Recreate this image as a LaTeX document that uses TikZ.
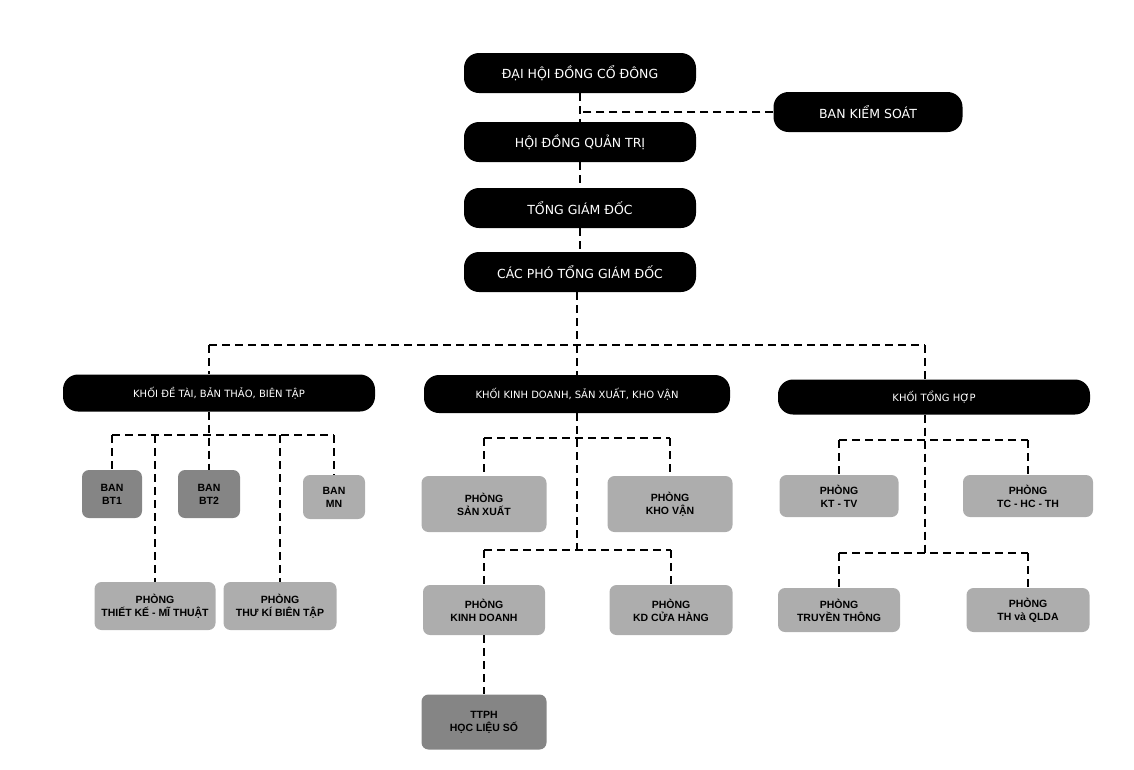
\documentclass[tikz,border=0pt]{standalone}
\usepackage{fontspec}
\setmainfont{Liberation Sans}
\newfontfamily\headfont{DejaVu Sans}
\begin{document}
\begin{tikzpicture}[x=1pt, y=-1pt,
    head/.style={rectangle, rounded corners=15pt, fill=black, text=white, font=\headfont\fontsize{12.5}{14}\selectfont, minimum height=40pt},
    block/.style={head, font=\headfont\fontsize{10}{12}\selectfont},
    unit/.style={rectangle, rounded corners=7pt, fill=black!32, text=black, font=\bfseries\fontsize{10.5}{13}\selectfont, align=center, inner sep=2pt},
    dark/.style={unit, fill=black!48},
    link/.style={draw=black, line width=2pt, dash pattern=on 8pt off 5pt}]
    \useasboundingbox (0,0) rectangle (1134,769);

    % Top management
    \node[head, minimum width=232pt] (dh) at (580,73) {ĐẠI HỘI ĐỒNG CỔ ĐÔNG};
    \node[head, minimum width=189pt] (bks) at (868,112) {BAN KIỂM SOÁT};
    \node[head, minimum width=232pt] (hd) at (580,142) {HỘI ĐỒNG QUẢN TRỊ};
    \node[head, minimum width=232pt] (tgd) at (580,208) {TỔNG GIÁM ĐỐC};
    \node[head, minimum width=232pt] (pho) at (580,272) {CÁC PHÓ TỔNG GIÁM ĐỐC};

    % Blocks
    \node[block, minimum width=312pt, minimum height=37pt] (k1) at (219,393) {KHỐI ĐỀ TÀI, BẢN THẢO, BIÊN TẬP};
    \node[block, minimum width=306pt, minimum height=38pt] (k2) at (577,394) {KHỐI KINH DOANH, SẢN XUẤT, KHO VẬN};
    \node[block, minimum width=312pt, minimum height=35pt] (k3) at (934,397) {KHỐI TỔNG HỢP};

    % Units of block 1
    \node[dark, minimum width=60pt, minimum height=48pt] (bt1) at (112,494) {BAN\\BT1};
    \node[dark, minimum width=62pt, minimum height=48pt] (bt2) at (209,494) {BAN\\BT2};
    \node[unit, minimum width=62pt, minimum height=44pt] (mn) at (334,497) {BAN\\MN};
    \node[unit, minimum width=121pt, minimum height=48pt] (tk) at (155,606) {PHÒNG\\THIẾT KẾ - MĨ THUẬT};
    \node[unit, minimum width=113pt, minimum height=48pt] (tkbt) at (280,606) {PHÒNG\\THƯ KÍ BIÊN TẬP};

    % Units of block 2
    \node[unit, minimum width=125pt, minimum height=56pt] (sx) at (484,504) {PHÒNG\\SẢN XUẤT};
    \node[unit, minimum width=125pt, minimum height=56pt] (kv) at (670,504) {PHÒNG\\KHO VẬN};
    \node[unit, minimum width=122pt, minimum height=50pt] (kd) at (484,610) {PHÒNG\\KINH DOANH};
    \node[unit, minimum width=123pt, minimum height=50pt] (ch) at (671,610) {PHÒNG\\KD CỬA HÀNG};
    \node[dark, minimum width=125pt, minimum height=55pt] (tt) at (484,722) {TTPH\\HỌC LIỆU SỐ};

    % Units of block 3
    \node[unit, minimum width=119pt, minimum height=42pt] (kt) at (839,496) {PHÒNG\\KT - TV};
    \node[unit, minimum width=130pt, minimum height=42pt] (tc) at (1028,496) {PHÒNG\\TC - HC - TH};
    \node[unit, minimum width=122pt, minimum height=44pt] (tr) at (839,610) {PHÒNG\\TRUYỀN THÔNG};
    \node[unit, minimum width=123pt, minimum height=44pt] (ql) at (1028,610) {PHÒNG\\TH và QLDA};

    % Links at the top
    \draw[link] (dh) -- (hd);
    \draw[link] (hd) -- (tgd);
    \draw[link] (tgd) -- (pho);
    \draw[link] (bks.west) -- (bks.west -| dh.south);

    % Bus to the blocks
    \coordinate (b1) at (209,345);
    \coordinate (b2) at (577,345);
    \coordinate (b3) at (925,345);
    \draw[link] (pho.south -| b2) -- (b2);
    \draw[link] (b1) -- (b3);
    \draw[link] (b1) -- (b1 |- k1.north);
    \draw[link] (b2) -- (k2.north);
    \draw[link] (b3) -- (b3 |- k3.north);

    % Links in block 1
    \coordinate (j1) at (209,435);
    \draw[link] (j1 |- k1.south) -- (bt2.north);
    \draw[link] (bt1.north |- j1) -- (mn.north |- j1);
    \draw[link] (bt1.north |- j1) -- (bt1.north);
    \draw[link] (mn.north |- j1) -- (mn.north);
    \draw[link] (tk.north |- j1) -- (tk.north);
    \draw[link] (tkbt.north |- j1) -- (tkbt.north);

    % Links in block 2
    \coordinate (j2) at (577,438);
    \coordinate (j2b) at (577,550);
    \draw[link] (k2.south) -- (j2b);
    \draw[link] (sx.north |- j2) -- (kv.north |- j2);
    \draw[link] (sx.north |- j2) -- (sx.north);
    \draw[link] (kv.north |- j2) -- (kv.north);
    \draw[link] (kd.north |- j2b) -- (ch.north |- j2b);
    \draw[link] (kd.north |- j2b) -- (kd.north);
    \draw[link] (ch.north |- j2b) -- (ch.north);
    \draw[link] (kd) -- (tt);

    % Links in block 3
    \coordinate (j3) at (925,440);
    \coordinate (j3b) at (925,553);
    \draw[link] (j3 |- k3.south) -- (j3b);
    \draw[link] (kt.north |- j3) -- (tc.north |- j3);
    \draw[link] (kt.north |- j3) -- (kt.north);
    \draw[link] (tc.north |- j3) -- (tc.north);
    \draw[link] (tr.north |- j3b) -- (ql.north |- j3b);
    \draw[link] (tr.north |- j3b) -- (tr.north);
    \draw[link] (ql.north |- j3b) -- (ql.north);
\end{tikzpicture}
\end{document}
